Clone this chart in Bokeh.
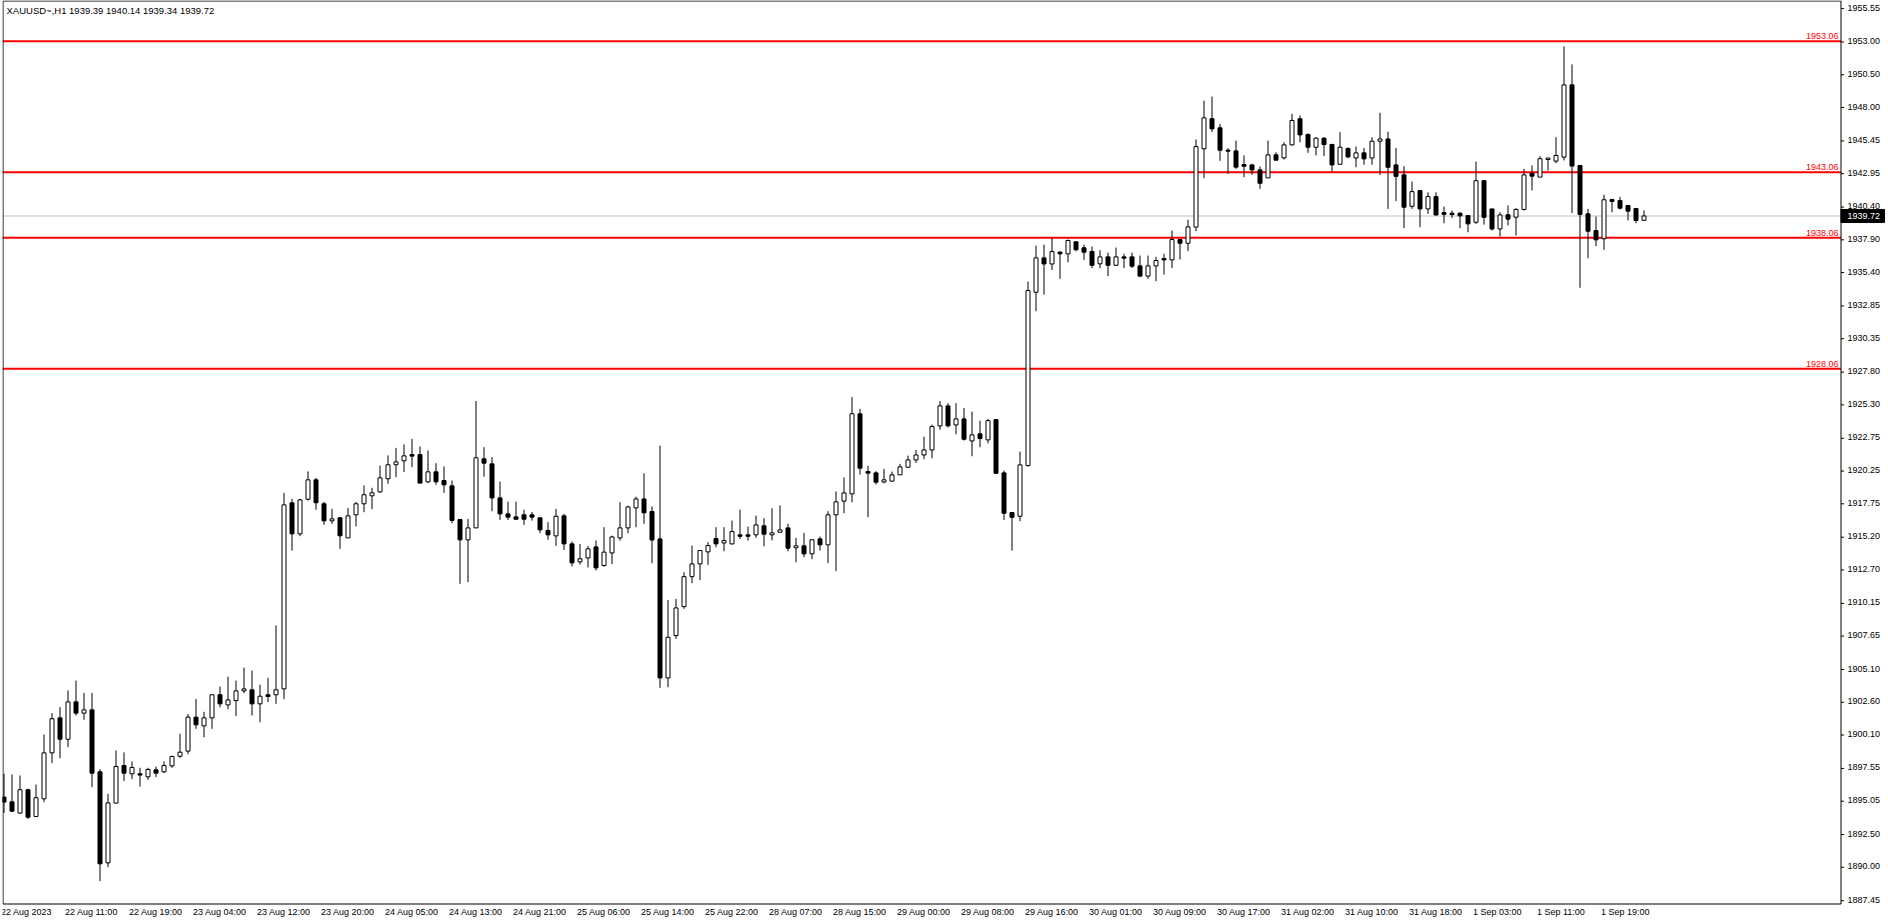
import numpy as np
from bokeh.plotting import figure
from bokeh.models import Range1d
from bokeh.core.properties import value
from bokeh.embed import file_html
from bokeh.resources import INLINE

# ---------------- data (XAUUSD H1) ----------------
opens = [1895.36, 1895.00, 1894.14, 1895.92, 1893.88, 1895.23, 1898.74, 1901.41, 1899.78, 1902.63,
         1901.77, 1902.02, 1897.29, 1890.34, 1894.90, 1897.77, 1897.14, 1897.14, 1896.91, 1897.44,
         1897.29, 1897.75, 1898.48, 1898.87, 1901.46, 1900.80, 1901.41, 1903.17, 1902.40, 1902.73,
         1903.47, 1903.55, 1902.48, 1903.17, 1903.17, 1903.62, 1917.82, 1915.46, 1918.10, 1919.58,
         1917.75, 1916.45, 1916.68, 1915.15, 1916.91, 1917.75, 1918.36, 1918.66, 1919.66, 1920.73,
         1921.03, 1921.51, 1921.51, 1919.43, 1920.19, 1919.53, 1919.12, 1916.55, 1915.00, 1915.91,
         1921.18, 1920.80, 1918.20, 1916.98, 1916.75, 1916.91, 1916.91, 1916.68, 1915.71, 1915.30,
         1916.83, 1914.69, 1913.32, 1913.62, 1914.46, 1913.04, 1914.00, 1915.15, 1915.91, 1917.44,
         1918.12, 1917.16, 1915.07, 1904.46, 1907.69, 1909.90, 1912.19, 1913.16, 1914.08, 1915.10,
         1914.76, 1914.69, 1915.38, 1915.38, 1915.38, 1916.07, 1915.38, 1915.58, 1915.91, 1914.39,
         1914.54, 1913.93, 1915.07, 1914.62, 1916.91, 1917.95, 1918.51, 1924.62, 1920.21, 1920.11,
         1919.42, 1919.48, 1919.96, 1920.54, 1921.10, 1921.48, 1921.86, 1923.70, 1925.22, 1923.77,
         1924.23, 1922.55, 1923.09, 1922.63, 1924.18, 1920.11, 1917.08, 1916.80, 1920.67, 1933.90,
         1936.52, 1936.06, 1936.96, 1936.83, 1937.75, 1937.29, 1937.01, 1936.07, 1936.60, 1935.96,
         1936.60, 1936.60, 1935.91, 1935.13, 1935.91, 1936.47, 1936.37, 1937.92, 1937.64, 1938.87,
         1944.85, 1947.14, 1946.45, 1944.74, 1944.69, 1943.65, 1943.62, 1943.24, 1942.63, 1944.39,
         1944.16, 1945.15, 1947.14, 1945.94, 1944.97, 1945.66, 1945.18, 1943.67, 1944.87, 1944.15,
         1944.54, 1944.15, 1945.43, 1945.60, 1943.62, 1942.86, 1940.46, 1941.66, 1940.26, 1941.20,
         1939.98, 1939.93, 1939.93, 1939.75, 1939.24, 1942.42, 1940.26, 1938.73, 1939.81, 1939.63,
         1940.22, 1942.99, 1942.69, 1944.03, 1943.91, 1944.21, 1949.73, 1943.58, 1939.89, 1938.61,
         1937.98, 1940.98, 1940.90, 1940.52, 1940.29, 1939.39]
highs = [1897.14, 1897.09, 1897.01, 1896.00, 1896.32, 1900.14, 1901.77, 1902.23, 1903.50, 1904.26,
         1903.30, 1903.30, 1897.49, 1895.61, 1898.92, 1898.77, 1898.08, 1897.60, 1897.60, 1897.69,
         1898.08, 1898.53, 1900.19, 1901.71, 1902.86, 1901.87, 1903.17, 1903.80, 1904.56, 1904.26,
         1905.25, 1905.02, 1903.95, 1904.46, 1908.46, 1918.59, 1918.13, 1918.13, 1920.22, 1919.73,
         1917.90, 1917.37, 1916.73, 1917.44, 1917.90, 1919.15, 1918.97, 1920.67, 1921.44, 1922.02,
         1922.28, 1922.71, 1922.13, 1921.82, 1920.85, 1920.60, 1919.53, 1916.55, 1916.60, 1925.60,
         1922.07, 1921.31, 1919.45, 1917.92, 1917.92, 1917.29, 1917.13, 1916.68, 1916.35, 1917.36,
         1916.98, 1914.87, 1914.69, 1914.54, 1914.95, 1915.96, 1915.32, 1917.87, 1917.61, 1918.30,
         1920.08, 1917.54, 1922.19, 1910.41, 1910.49, 1912.53, 1914.56, 1914.23, 1914.82, 1915.96,
         1915.96, 1916.47, 1917.31, 1916.01, 1916.85, 1916.65, 1917.41, 1917.62, 1916.22, 1915.15,
         1915.53, 1915.00, 1915.25, 1917.19, 1918.69, 1919.76, 1925.89, 1925.00, 1920.65, 1920.24,
         1920.42, 1920.21, 1920.80, 1921.43, 1921.86, 1922.88, 1923.80, 1925.60, 1925.43, 1925.43,
         1925.07, 1924.79, 1924.10, 1924.23, 1924.18, 1920.29, 1917.08, 1921.74, 1934.71, 1937.46,
         1937.54, 1938.05, 1937.03, 1937.92, 1937.80, 1937.52, 1937.39, 1937.11, 1936.93, 1937.31,
         1936.83, 1936.93, 1936.70, 1936.70, 1936.60, 1936.83, 1938.61, 1937.98, 1939.43, 1945.56,
         1948.53, 1948.84, 1946.75, 1944.90, 1945.48, 1944.34, 1943.70, 1943.50, 1945.48, 1944.59,
         1945.35, 1947.52, 1947.39, 1946.04, 1945.74, 1945.74, 1945.23, 1946.12, 1944.97, 1945.02,
         1944.92, 1945.73, 1947.59, 1946.16, 1944.92, 1943.52, 1942.35, 1941.66, 1941.53, 1941.53,
         1940.44, 1940.13, 1940.01, 1939.75, 1943.87, 1942.47, 1940.26, 1940.01, 1940.52, 1940.32,
         1943.32, 1943.58, 1944.29, 1944.16, 1945.74, 1952.66, 1951.29, 1943.58, 1940.27, 1939.68,
         1941.34, 1941.03, 1941.18, 1940.52, 1940.34, 1940.14]
lows = [1894.14, 1894.21, 1894.09, 1893.70, 1893.83, 1894.98, 1897.95, 1898.33, 1899.17, 1901.59,
        1901.26, 1896.12, 1888.95, 1890.01, 1894.90, 1896.58, 1896.73, 1896.17, 1896.68, 1896.88,
        1897.19, 1897.59, 1898.36, 1898.64, 1900.57, 1899.93, 1900.57, 1902.22, 1902.07, 1901.54,
        1903.29, 1901.59, 1901.08, 1902.61, 1902.48, 1902.83, 1914.18, 1915.28, 1918.00, 1917.29,
        1916.15, 1916.22, 1914.31, 1915.15, 1916.02, 1917.11, 1917.34, 1918.59, 1919.28, 1919.78,
        1920.17, 1920.55, 1919.33, 1919.33, 1919.20, 1918.59, 1916.27, 1911.64, 1911.77, 1915.91,
        1919.83, 1917.19, 1916.52, 1916.52, 1916.57, 1916.14, 1916.47, 1915.51, 1915.00, 1914.54,
        1914.23, 1912.96, 1913.11, 1912.89, 1912.66, 1912.96, 1913.16, 1914.94, 1915.50, 1915.96,
        1916.22, 1913.21, 1903.70, 1903.75, 1907.44, 1909.73, 1911.69, 1911.94, 1913.09, 1914.43,
        1914.13, 1914.64, 1915.07, 1914.94, 1915.15, 1914.51, 1914.95, 1915.58, 1914.13, 1913.29,
        1913.67, 1913.52, 1914.18, 1913.22, 1912.61, 1917.03, 1917.87, 1919.98, 1916.73, 1919.22,
        1919.32, 1919.42, 1919.96, 1920.52, 1920.87, 1921.15, 1921.23, 1923.39, 1923.59, 1923.06,
        1922.58, 1921.38, 1922.07, 1922.37, 1920.03, 1916.52, 1914.18, 1916.42, 1920.59, 1932.45,
        1933.72, 1935.60, 1934.92, 1936.19, 1937.03, 1936.37, 1935.74, 1935.74, 1935.13, 1935.91,
        1935.74, 1935.74, 1935.05, 1934.92, 1934.74, 1935.25, 1935.74, 1936.40, 1937.03, 1938.56,
        1942.61, 1946.12, 1943.93, 1942.94, 1943.32, 1942.68, 1942.86, 1941.79, 1942.63, 1943.98,
        1944.03, 1945.10, 1945.35, 1944.54, 1944.34, 1944.29, 1943.12, 1943.67, 1944.13, 1943.44,
        1943.64, 1943.64, 1942.86, 1940.26, 1940.85, 1938.81, 1940.26, 1938.86, 1939.88, 1939.75,
        1939.17, 1939.57, 1938.78, 1938.48, 1939.12, 1939.06, 1938.61, 1938.15, 1939.00, 1938.23,
        1940.14, 1941.67, 1942.69, 1943.19, 1943.75, 1943.96, 1939.94, 1934.24, 1936.50, 1937.42,
        1937.14, 1940.01, 1940.22, 1939.38, 1939.17, 1939.34]
closes = [1894.98, 1894.29, 1895.92, 1893.83, 1895.31, 1898.74, 1901.34, 1899.78, 1902.63, 1901.77,
          1902.02, 1897.19, 1890.27, 1894.92, 1897.70, 1897.19, 1897.62, 1897.04, 1897.47, 1897.19,
          1897.77, 1898.46, 1898.79, 1901.46, 1900.88, 1901.41, 1903.17, 1902.48, 1902.78, 1903.47,
          1903.62, 1902.48, 1903.06, 1903.04, 1903.55, 1917.67, 1915.46, 1918.05, 1919.58, 1917.83,
          1916.45, 1916.60, 1915.31, 1916.83, 1917.75, 1918.44, 1918.59, 1919.73, 1920.73, 1920.95,
          1921.41, 1921.39, 1919.33, 1920.19, 1919.43, 1919.20, 1916.48, 1915.00, 1915.91, 1921.26,
          1920.85, 1918.20, 1916.98, 1916.73, 1916.57, 1916.57, 1916.73, 1915.76, 1915.38, 1916.80,
          1914.69, 1913.24, 1913.55, 1914.31, 1912.86, 1914.06, 1915.22, 1915.91, 1917.51, 1918.12,
          1917.06, 1914.99, 1904.46, 1907.56, 1909.80, 1912.19, 1913.16, 1914.18, 1914.56, 1914.69,
          1914.94, 1915.63, 1915.27, 1915.27, 1916.14, 1915.43, 1915.53, 1915.76, 1914.36, 1914.54,
          1913.93, 1915.00, 1914.62, 1916.91, 1917.90, 1918.58, 1924.62, 1920.47, 1920.09, 1919.40,
          1919.58, 1919.96, 1920.57, 1921.10, 1921.48, 1921.86, 1923.64, 1925.22, 1923.70, 1924.23,
          1922.68, 1923.01, 1922.73, 1924.10, 1920.08, 1917.03, 1916.72, 1920.72, 1934.03, 1936.52,
          1936.06, 1937.00, 1936.83, 1937.85, 1937.14, 1936.96, 1935.96, 1936.60, 1935.96, 1936.60,
          1936.50, 1935.89, 1935.13, 1935.91, 1936.32, 1936.37, 1937.92, 1937.64, 1938.89, 1945.02,
          1947.21, 1946.37, 1944.74, 1944.67, 1943.45, 1943.52, 1943.24, 1942.22, 1944.39, 1943.98,
          1945.15, 1947.01, 1945.91, 1944.97, 1945.66, 1945.18, 1943.62, 1944.97, 1944.23, 1944.54,
          1944.08, 1945.43, 1945.60, 1943.44, 1942.75, 1940.39, 1941.58, 1940.26, 1941.20, 1939.80,
          1939.85, 1939.83, 1939.73, 1939.12, 1942.42, 1939.62, 1938.73, 1939.80, 1939.48, 1940.22,
          1942.86, 1942.76, 1944.09, 1944.14, 1944.34, 1949.73, 1943.53, 1939.84, 1938.56, 1937.90,
          1940.96, 1940.83, 1940.32, 1940.09, 1939.38, 1939.72]

time_labels = ["22 Aug 2023", "22 Aug 11:00", "22 Aug 19:00", "23 Aug 04:00", "23 Aug 12:00",
               "23 Aug 20:00", "24 Aug 05:00", "24 Aug 13:00", "24 Aug 21:00", "25 Aug 06:00",
               "25 Aug 14:00", "25 Aug 22:00", "28 Aug 07:00", "28 Aug 15:00", "29 Aug 00:00",
               "29 Aug 08:00", "29 Aug 16:00", "30 Aug 01:00", "30 Aug 09:00", "30 Aug 17:00",
               "31 Aug 02:00", "31 Aug 10:00", "31 Aug 18:00", "1 Sep 03:00", "1 Sep 11:00",
               "1 Sep 19:00"]
bars_per_label = 8

price_ticks = [1955.55, 1953.00, 1950.50, 1948.00, 1945.45, 1942.95, 1940.40, 1937.90, 1935.40,
               1932.85, 1930.35, 1927.80, 1925.30, 1922.75, 1920.25, 1917.75, 1915.20, 1912.70,
               1910.15, 1907.65, 1905.10, 1902.60, 1900.10, 1897.55, 1895.05, 1892.50, 1890.00,
               1887.45]

levels = [1953.06, 1943.06, 1938.06, 1928.06]
last_price = 1939.72
header = "XAUUSD~,H1  1939.39 1940.14 1939.34 1939.72"

# ---------------- layout ----------------
FONT = "Liberation Sans"
bar_px = 8.0
px_per_dollar = 13.1
left_px = 2            # page x of the frame's left edge
axis_px = 1840.5       # page x of the price-scale line
bottom_px = 903.5      # page y of the time-scale line
frame_w, frame_h = 1884, 920
x0 = -0.1875
x1 = x0 + frame_w / bar_px
y1 = 1956.17
y0 = y1 - frame_h / px_per_dollar


def px_x(px):
    return x0 + (px - left_px) / bar_px


def px_y(py):
    return y1 - py / px_per_dollar


p = figure(frame_width=frame_w, frame_height=frame_h,
           x_range=Range1d(x0, x1), y_range=Range1d(y0, y1),
           output_backend="svg", toolbar_location=None,
           y_axis_location=None, x_axis_location=None,
           min_border_left=left_px, min_border_top=0, min_border_right=0, min_border_bottom=0,
           background_fill_color="white", border_fill_color="white",
           outline_line_color=None)
p.grid.visible = False

o = np.array(opens); h = np.array(highs); l = np.array(lows); c = np.array(closes)
idx = np.arange(len(o))
up = c >= o
dn = ~up

xa_line = px_x(axis_px)
yb_line = px_y(bottom_px)
xl_line = px_x(2.5)
yt_line = px_y(0.5)

# bid line and horizontal levels (up to the price scale)
p.segment([px_x(2)], [last_price], [xa_line], [last_price], line_color="#C0C0C0", line_width=1)
p.segment([px_x(2)] * len(levels), levels, [xa_line] * len(levels), levels,
          line_color="#FF0000", line_width=2)

# candles
p.segment(idx, h, idx, l, line_color="black", line_width=1)
p.vbar(x=idx[up], top=c[up], bottom=o[up], width=0.5,
       fill_color="white", line_color="black", line_width=1)
p.vbar(x=idx[dn], top=o[dn], bottom=c[dn], width=0.5,
       fill_color="black", line_color="black", line_width=1)

# chart border: left, top, price-scale line, time-scale line
p.segment([xl_line, xl_line, xa_line, xl_line], [yb_line, yt_line, yb_line, yb_line],
          [xl_line, xa_line, xa_line, xa_line], [yt_line, yt_line, yt_line, yb_line],
          line_color="black", line_width=1)

# level labels
p.text(x=[px_x(1838)] * len(levels), y=[lv + 2.0 / px_per_dollar for lv in levels],
       text=[f"{lv:.2f}" for lv in levels], text_color="#FF0000",
       text_font=value(FONT), text_font_size=value("9px"),
       text_align="right", text_baseline="bottom")

# price scale ticks and labels
p.segment([xa_line] * len(price_ticks), price_ticks,
          [px_x(axis_px + 3)] * len(price_ticks), price_ticks,
          line_color="black", line_width=1)
p.text(x=[px_x(1847)] * len(price_ticks), y=[t + 1.0 / px_per_dollar for t in price_ticks],
       text=[f"{t:.2f}" for t in price_ticks], text_color="black",
       text_font=value(FONT), text_font_size=value("9px"),
       text_align="left", text_baseline="middle")

# current price box
p.quad(left=[xa_line], right=[px_x(1884)],
       top=[last_price + 6.5 / px_per_dollar], bottom=[last_price - 6.5 / px_per_dollar],
       fill_color="black", line_color="black")
p.text(x=[px_x(1847)], y=[last_price], text=[f"{last_price:.2f}"], text_color="white",
       text_font=value(FONT), text_font_size=value("9px"),
       text_align="left", text_baseline="middle")

# header text
p.text(x=[px_x(6)], y=[px_y(9.5)], text=[header], text_color="black",
       text_font=value(FONT), text_font_size=value("9.5px"),
       text_align="left", text_baseline="middle")

# time scale labels: each starts at the bar it names
label_bars = [k * bars_per_label for k in range(len(time_labels))]
p.text(x=[b - 3.0 / bar_px for b in label_bars], y=[px_y(911.5)] * len(time_labels),
       text=time_labels, text_color="black",
       text_font=value(FONT), text_font_size=value("9px"),
       text_align="left", text_baseline="middle")

open("out.html", "w").write(file_html(p, INLINE))
